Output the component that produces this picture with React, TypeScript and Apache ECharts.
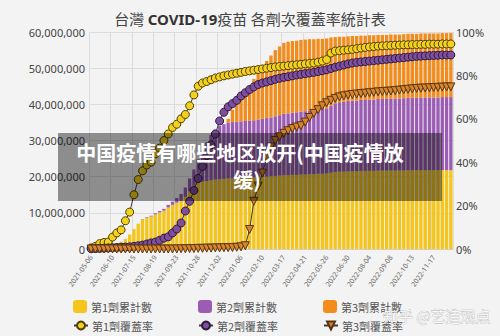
import React, { useEffect, useRef } from "react";
import * as echarts from "echarts";

const categories = [
  "2021-05-06", "2021-05-13", "2021-05-20", "2021-05-27", "2021-06-03", "2021-06-10", "2021-06-17", "2021-06-24", "2021-07-01", "2021-07-08",
  "2021-07-15", "2021-07-22", "2021-07-29", "2021-08-05", "2021-08-12", "2021-08-19", "2021-08-26", "2021-09-02", "2021-09-09", "2021-09-16",
  "2021-09-23", "2021-09-30", "2021-10-07", "2021-10-14", "2021-10-21", "2021-10-28", "2021-11-04", "2021-11-11", "2021-11-18", "2021-11-25",
  "2021-12-02", "2021-12-09", "2021-12-16", "2021-12-23", "2021-12-30", "2022-01-06", "2022-01-13", "2022-01-20", "2022-01-27", "2022-02-03",
  "2022-02-10", "2022-02-17", "2022-02-24", "2022-03-03", "2022-03-10", "2022-03-17", "2022-03-24", "2022-03-31", "2022-04-07", "2022-04-14",
  "2022-04-21", "2022-04-28", "2022-05-05", "2022-05-12", "2022-05-19", "2022-05-26", "2022-06-02", "2022-06-09", "2022-06-16", "2022-06-23",
  "2022-06-30", "2022-07-07", "2022-07-14", "2022-07-21", "2022-07-28", "2022-08-04", "2022-08-11", "2022-08-18", "2022-08-25", "2022-09-01",
  "2022-09-08", "2022-09-15", "2022-09-22", "2022-09-29", "2022-10-06", "2022-10-13", "2022-10-20", "2022-10-27", "2022-11-03", "2022-11-10",
  "2022-11-17", "2022-11-24", "2022-12-01", "2022-12-08", "2022-12-15",
];

// cumulative doses, in millions
const dose1Count = [
  0.1, 0.2, 0.4, 0.6, 0.8, 1.1, 1.5, 2.0, 2.8, 4.0,
  5.5, 7.0, 8.2, 8.7, 9.0, 9.6, 10.1, 10.6, 11.5, 12.2,
  12.8, 13.3, 14.4, 16.0, 17.5, 18.3, 18.6, 18.8, 19.0, 19.2,
  19.3, 19.4, 19.5, 19.5, 19.6, 19.6, 19.7, 19.7, 19.8, 19.9,
  20.0, 20.0, 20.1, 20.2, 20.3, 20.4, 20.4, 20.5, 20.5, 20.6,
  20.6, 20.7, 20.7, 20.8, 20.8, 20.9, 21.1, 21.3, 21.4, 21.4,
  21.5, 21.5, 21.5, 21.6, 21.6, 21.6, 21.6, 21.7, 21.7, 21.7,
  21.7, 21.7, 21.7, 21.7, 21.8, 21.8, 21.8, 21.8, 21.8, 21.8,
  21.8, 21.8, 21.8, 21.8, 21.8,
];
const dose2Count = [
  0, 0, 0, 0, 0, 0, 0, 0, 0, 0,
  0, 0, 0.1, 0.15, 0.2, 0.3, 0.4, 0.5, 0.7, 0.9,
  1.3, 1.9, 2.6, 3.5, 4.5, 6.5, 8.8, 10.7, 12.5, 13.8,
  14.7, 15.1, 15.5, 15.6, 15.6, 15.7, 15.7, 15.8, 15.8, 15.9,
  16.0, 16.2, 16.3, 16.5, 16.7, 17.0, 17.1, 17.2, 17.3, 17.4,
  17.5, 17.6, 17.7, 17.8, 17.9, 18.0, 18.5, 19.0, 19.2, 19.3,
  19.4, 19.5, 19.5, 19.6, 19.6, 19.7, 19.7, 19.8, 19.8, 19.8,
  19.9, 19.9, 19.9, 20.0, 20.0, 20.0, 20.0, 20.1, 20.1, 20.1,
  20.1, 20.1, 20.2, 20.2, 20.2,
];
const dose3Count = [
  0, 0, 0, 0, 0, 0, 0, 0, 0, 0,
  0, 0, 0, 0, 0, 0, 0, 0, 0, 0,
  0, 0, 0, 0, 0, 0, 0, 0, 0, 0,
  0, 0, 1.0, 3.4, 5.3, 6.7, 8.1, 9.5, 11.4, 12.7,
  14.0, 15.8, 17.1, 18.3, 19.0, 19.6, 19.8, 19.8, 19.8, 19.8,
  19.8, 19.7, 19.6, 19.5, 19.4, 19.3, 18.9, 18.3, 18.1, 18.0,
  17.9, 17.9, 17.9, 17.8, 17.8, 17.8, 17.8, 17.7, 17.7, 17.7,
  17.7, 17.7, 17.7, 17.7, 17.7, 17.7, 17.7, 17.7, 17.7, 17.7,
  17.7, 17.7, 17.7, 17.7, 17.7,
];

// coverage, percent
const dose1Rate = [
  0.5, 1.2, 2.5, 3.0, 3.2, 5.5, 7.4, 8.8, 13, 17,
  25, 32, 36, 38.7, 40, 43.8, 46.5, 50, 53, 56,
  57.5, 60, 62, 66, 71, 75, 76.5, 77.2, 78, 78.8,
  79.3, 79.8, 80.2, 80.6, 81, 81.4, 81.8, 82.1, 82.4, 82.7,
  83, 83.3, 83.6, 83.9, 84.1, 84.3, 84.5, 84.7, 84.9, 85.1,
  85.3, 85.5, 85.7, 86.1, 86.6, 87.3, 90.3, 91.2, 91.4, 91.6,
  91.8, 92.0, 92.3, 92.6, 92.9, 93.1, 93.3, 93.5, 93.6, 93.7,
  93.8, 93.9, 94.0, 94.1, 94.1, 94.2, 94.2, 94.3, 94.3, 94.4,
  94.4, 94.4, 94.5, 94.5, 94.5,
];
const dose2Rate = [
  0.1, 0.2, 0.3, 0.4, 0.5, 0.6, 0.7, 0.8, 0.9, 1.0,
  1.2, 1.5, 1.8, 2.3, 2.8, 3.2, 4.0, 5.0, 5.6, 7.4,
  9.2, 12, 17.5, 22, 27, 32.5, 38, 43, 48, 53,
  59, 63, 65.5, 67, 68.5, 70.5, 72, 73.5, 74.7, 75.8,
  76.5, 77, 77.6, 78.2, 78.7, 79.1, 79.4, 79.8, 80.2, 80.5,
  80.8, 81.1, 81.4, 81.8, 82.2, 82.6, 83.2, 83.8, 84.3, 84.8,
  85.3, 85.7, 86.0, 86.2, 86.4, 86.6, 86.8, 87.0, 87.2, 87.4,
  87.6, 87.8, 88.0, 88.2, 88.4, 88.6, 88.8, 88.9, 89.0, 89.1,
  89.2, 89.3, 89.4, 89.4, 89.4,
];
const dose3Rate = [
  0, 0, 0, 0, 0, 0, 0, 0, 0, 0,
  0, 0, 0, 0, 0, 0, 0, 0, 0, 0,
  0, 0.1, 0.1, 0.2, 0.2, 0.3, 0.3, 0.4, 0.4, 0.5,
  0.5, 0.6, 0.6, 0.7, 0.8, 1.0, 1.5, 9, 22, 29,
  35, 42, 47, 50, 51.8, 53.3, 54.5, 55.5, 56.2, 56.8,
  58.5, 60.6, 62.5, 64.2, 66, 67.4, 68.5, 69.4, 70.1, 70.6,
  70.9, 71.2, 71.4, 71.6, 71.8, 72.0, 72.2, 72.4, 72.6, 72.7,
  72.8, 73.0, 73.2, 73.4, 73.6, 73.8, 74.0, 74.1, 74.2, 74.3,
  74.4, 74.5, 74.6, 74.7, 74.7,
];

const seriesNames = ["第1劑累計數", "第2劑累計數", "第3劑累計數", "第1劑覆蓋率", "第2劑覆蓋率", "第3劑覆蓋率"];
const leftTicksMax = 60;
const rightTicksMax = 100;

const FONT = "'Noto Sans', 'Noto Sans CJK TC', sans-serif";
const CJK = "'Noto Sans CJK TC', 'Noto Sans', sans-serif";

const YELLOW = "#f5c51c";
const PURPLE = "#9b5cb4";
const ORANGE = "#f28c1c";

function legendAt(name: string, left: number, top: number, isLine: boolean) {
  return {
    data: [name],
    left,
    top,
    itemWidth: 14,
    itemHeight: isLine ? 10 : 13,
    itemGap: 0,
    padding: 0,
    icon: isLine ? undefined : "roundRect",
    textStyle: { color: "#555", fontSize: 11, fontFamily: CJK, padding: [0, 0, 0, -1] },
  };
}

export default function App() {
  const ref = useRef<HTMLDivElement>(null);
  useEffect(() => {
    const chart = echarts.init(ref.current!, null, { renderer: "svg" });
    const lineCommon = {
      type: "line",
      yAxisIndex: 1,
      symbolSize: 8,
      showSymbol: true,
      showAllSymbol: true,
      z: 5,
      lineStyle: { color: "#3a3a3a", width: 1 },
    };
    chart.setOption({
      animation: false,
      backgroundColor: "#f3f3f3",
      title: {
        text: "{a|台灣 }{b|COVID-19}{a|疫苗 各劑次覆蓋率統計表}",
        left: "center",
        top: 6,
        textStyle: {
          rich: {
            a: { fontSize: 15, color: "#444", fontWeight: "normal", fontFamily: CJK },
            b: { fontSize: 15, color: "#333", fontWeight: "bold", fontFamily: FONT },
          },
        },
      },
      legend: [
        legendAt(seriesNames[0], 73, 300, false),
        legendAt(seriesNames[1], 198, 300, false),
        legendAt(seriesNames[2], 323, 300, false),
        legendAt(seriesNames[3], 73, 320, true),
        legendAt(seriesNames[4], 198, 320, true),
        legendAt(seriesNames[5], 323, 320, true),
      ],
      grid: { left: 89, right: 47, top: 32, bottom: 87, containLabel: false },
      xAxis: {
        type: "category",
        data: categories,
        boundaryGap: true,
        axisLine: { lineStyle: { color: "#cfcfcf" } },
        axisTick: { show: false },
        axisLabel: { interval: 4, rotate: 55, fontSize: 7, color: "#666", margin: 7, fontFamily: FONT },
        splitLine: { show: true, interval: 4, lineStyle: { color: "#dcdcdc", width: 1 } },
      },
      yAxis: [
        {
          type: "value",
          min: 0,
          max: leftTicksMax,
          interval: 10,
          axisLine: { show: false },
          axisTick: { show: false },
          axisLabel: {
            fontSize: 11,
            color: "#444",
            margin: 4,
            fontFamily: FONT,
            formatter: (v: number) => (v * 1000000).toLocaleString("en-US"),
          },
          splitLine: { lineStyle: { color: "#dcdcdc" } },
        },
        {
          type: "value",
          min: 0,
          max: rightTicksMax,
          interval: 20,
          position: "right",
          axisLine: { show: false },
          axisTick: { show: false },
          axisLabel: { fontSize: 11, color: "#444", margin: 3, fontFamily: FONT, formatter: "{value}%" },
          splitLine: { show: false },
        },
      ],
      series: [
        { name: seriesNames[0], type: "bar", stack: "doses", data: dose1Count, barCategoryGap: "22%", itemStyle: { color: YELLOW } },
        { name: seriesNames[1], type: "bar", stack: "doses", data: dose2Count, barCategoryGap: "22%", itemStyle: { color: PURPLE } },
        { name: seriesNames[2], type: "bar", stack: "doses", data: dose3Count, barCategoryGap: "22%", itemStyle: { color: ORANGE } },
        {
          ...lineCommon,
          name: seriesNames[3],
          data: dose1Rate,
          symbol: "circle",
          itemStyle: { color: "#f5d11f", borderColor: "#4d4000", borderWidth: 1 },
        },
        {
          ...lineCommon,
          name: seriesNames[4],
          data: dose2Rate,
          symbol: "circle",
          itemStyle: { color: "#7f4f9f", borderColor: "#2e1a3a", borderWidth: 1 },
        },
        {
          ...lineCommon,
          name: seriesNames[5],
          data: dose3Rate,
          symbol: "triangle",
          symbolRotate: 180,
          itemStyle: { color: "#d6852c", borderColor: "#5a3510", borderWidth: 1 },
        },
      ],
      graphic: [
        {
          type: "rect",
          z: 100,
          shape: { x: 58, y: 133, width: 384, height: 68 },
          style: { fill: "rgba(0,0,0,0.42)" },
        },
        {
          type: "text",
          z: 101,
          x: 240,
          y: 152,
          style: {
            text: "中国疫情有哪些地区放开(中国疫情放",
            fill: "#ffffff",
            fontSize: 20,
            fontWeight: "bold",
            fontFamily: "'Noto Sans CJK SC', sans-serif",
            align: "center",
            verticalAlign: "middle",
          },
        },
        {
          type: "text",
          z: 101,
          x: 247,
          y: 179,
          style: {
            text: "缓)",
            fill: "#ffffff",
            fontSize: 20,
            fontWeight: "bold",
            fontFamily: "'Noto Sans CJK SC', sans-serif",
            align: "center",
            verticalAlign: "middle",
          },
        },
        {
          type: "text",
          z: 101,
          x: 383,
          y: 315,
          style: {
            text: "知乎 @艺造观点",
            fill: "rgba(255,255,255,0.85)",
            stroke: "rgba(120,120,120,0.6)",
            lineWidth: 0.6,
            fontSize: 15,
            fontFamily: "'Noto Sans CJK SC', sans-serif",
            align: "left",
            verticalAlign: "middle",
          },
        },
      ],
    });
    return () => chart.dispose();
  }, []);
  return <div ref={ref} style={{ position: "fixed", left: 0, top: 0, width: 500, height: 336 }} />;
}
